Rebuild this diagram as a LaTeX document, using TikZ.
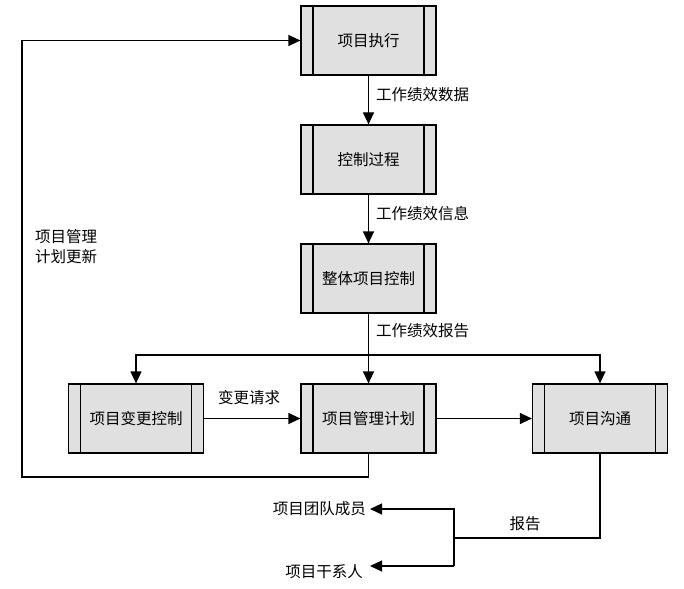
\documentclass[tikz,border=0pt]{standalone}
\usepackage{fontspec}
\setmainfont{Noto Sans CJK SC}
\usetikzlibrary{arrows.meta}
\tikzset{
  proc/.style={draw, line width=1.2pt, fill=black!12, minimum width=135pt, minimum height=69pt, inner sep=0pt,
    font=\fontsize{15.5pt}{18pt}\selectfont,
    path picture={\draw[line width=1.2pt] ([xshift=12pt]path picture bounding box.north west) -- ([xshift=12pt]path picture bounding box.south west);
                  \draw[line width=1.2pt] ([xshift=-12pt]path picture bounding box.north east) -- ([xshift=-12pt]path picture bounding box.south east);}},
  conn/.style={line width=1.2pt, -{Triangle[length=12pt,width=11pt]}},
  plain/.style={line width=1.2pt},
  lbl/.style={font=\fontsize{15.5pt}{20pt}\selectfont, inner sep=0pt},
}
\begin{document}
\begin{tikzpicture}[x=1pt,y=-1pt]
\useasboundingbox (0,0) rectangle (684,588);
\node[proc] (exec) at (368.5,40.5) {项目执行};
\node[proc] (ctrl) at (368.5,159.5) {控制过程};
\node[proc] (integ) at (368.5,278.5) {整体项目控制};
\node[proc] (chg) at (136,418.5) {项目变更控制};
\node[proc] (plan) at (368.5,418.5) {项目管理计划};
\node[proc] (comm) at (600,418.5) {项目沟通};

\draw[conn] (exec) -- (ctrl);
\node[lbl, anchor=west] (l1) at (376,95) {工作绩效数据};
\draw[conn] (ctrl) -- (integ);
\node[lbl, anchor=west] (l2) at (376,214) {工作绩效信息};
\draw[conn] (integ) -- (plan);
\node[lbl, anchor=west] (l3) at (376,331) {工作绩效报告};
\coordinate (br) at (368.5,355);
\draw[conn] (br) -| (chg.north);
\draw[conn] (br) -| (comm.north);
\draw[conn] (chg) -- (plan);
\node[lbl] (l4) at (249,398) {变更请求};
\draw[conn] (plan) -- (comm);

\coordinate (f1) at (368.5,477);
\coordinate (f2) at (22,477);
\draw[conn] (plan.south) -- (f1) -- (f2) |- (exec.west);
\node[lbl, anchor=north west, align=left] (l5) at (35,229) {项目管理\\计划更新};

\node[lbl, anchor=east] (team) at (366,509) {项目团队成员};
\node[lbl, anchor=east] (stake) at (363,572) {项目干系人};
\coordinate (r1) at (600,538);
\coordinate (r2) at (454,538);
\coordinate (t1) at (454,509);
\coordinate (t2) at (454,566);
\draw[plain] (comm.south) -- (r1) -- (r2);
\draw[conn] (t2) -- (t1) -- (370,509);
\draw[conn] (t2) -- (370,566);
\node[lbl] (l6) at (525,524) {报告};
\end{tikzpicture}
\end{document}
